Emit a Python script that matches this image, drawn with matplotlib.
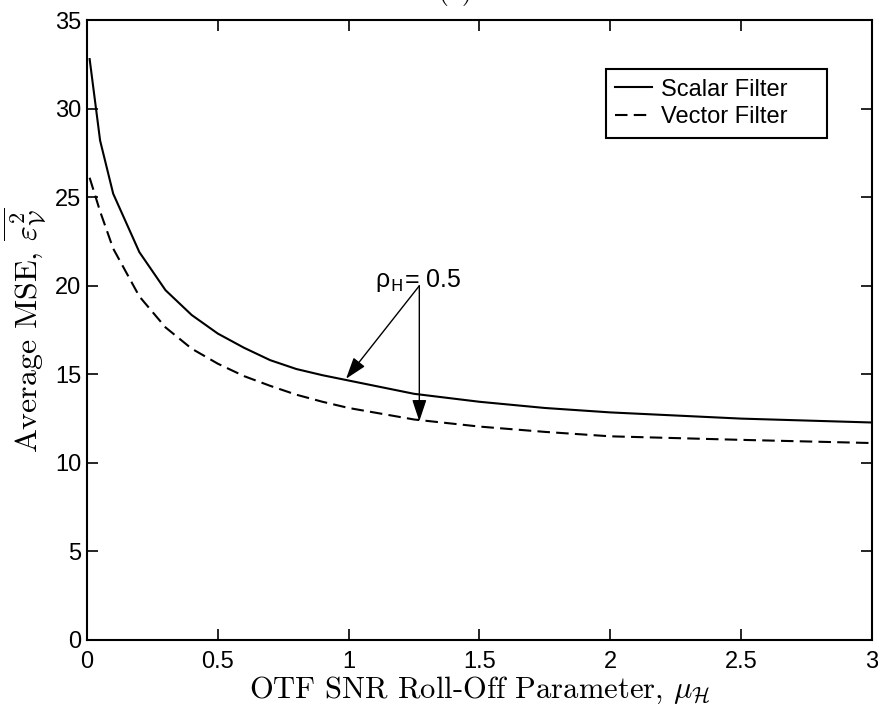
import matplotlib
matplotlib.use("Agg")
import matplotlib.pyplot as plt

plt.rcParams['mathtext.fontset'] = 'cm'
plt.rcParams['axes.unicode_minus'] = False

# OTF SNR roll-off parameter
mu = [0.01, 0.05, 0.1, 0.2, 0.3, 0.4, 0.5, 0.6, 0.7, 0.8, 0.9, 1.0,
      1.25, 1.5, 1.75, 2.0, 2.5, 3.0]
scalar_mse = [32.8, 28.2, 25.2, 21.9, 19.75, 18.35, 17.3, 16.5, 15.8, 15.3,
              14.95, 14.65, 13.9, 13.45, 13.1, 12.85, 12.5, 12.28]
vector_mse = [26.1, 24.2, 22.1, 19.4, 17.65, 16.45, 15.6, 14.9, 14.35, 13.85,
              13.45, 13.1, 12.45, 12.05, 11.75, 11.5, 11.3, 11.12]
labels = ["Scalar Filter", "Vector Filter"]

sans = ['Liberation Sans', 'DejaVu Sans']
serif = ['cmr10', 'DejaVu Serif']

fig = plt.figure(figsize=(8.79, 7.06), dpi=100)
ax = fig.add_axes([0.099, 0.0935, 0.893, 0.878])

ax.plot(mu, scalar_mse, color='k', lw=1.5, label=labels[0])
ax.plot(mu, vector_mse, color='k', lw=1.5, linestyle=(0, (6, 3)),
        label=labels[1])

ax.set_xlim(0, 3)
ax.set_ylim(0, 35)
ax.set_xticks([0, 0.5, 1, 1.5, 2, 2.5, 3])
ax.set_xticklabels(['0', '0.5', '1', '1.5', '2', '2.5', '3'])
ax.set_yticks(range(0, 36, 5))
ax.tick_params(direction='in', length=8, width=1.2, top=True, right=True,
               labelsize=17)
ax.tick_params(axis='x', pad=8)
ax.tick_params(axis='y', pad=4)
for lab in ax.get_xticklabels() + ax.get_yticklabels():
    lab.set_family(sans)
for sp in ax.spines.values():
    sp.set_linewidth(1.5)

ax.set_xlabel(r'OTF SNR Roll-Off Parameter, $\mu_{\mathcal{H}}$',
              fontsize=22, family=serif, labelpad=1)
ax.set_ylabel(r'Average MSE, $\overline{\varepsilon^2_{\mathcal{V}}}$',
              fontsize=23, family=serif, labelpad=6)

leg = ax.legend(loc='upper left', bbox_to_anchor=(0.661, 0.811, 0.282, 0.110),
                mode='expand', prop={'family': sans, 'size': 17},
                fancybox=False, edgecolor='k', framealpha=1,
                handlelength=1.55, borderpad=0.4, labelspacing=0.25,
                handletextpad=0.4, borderaxespad=0)
leg.get_frame().set_linewidth(1.5)

# annotation for rho_H
ax.text(1.10, 19.95, r'ρ$_{\mathsf{H}}$= 0.5', fontsize=18, family=sans,
        va='baseline', ha='left')
ax.annotate('', xy=(0.99, 14.75), xytext=(1.27, 20.0),
            arrowprops=dict(arrowstyle='-|>,head_length=0.6,head_width=0.2',
                            color='k', lw=1.0, mutation_scale=22,
                            shrinkA=0, shrinkB=0))
ax.annotate('', xy=(1.27, 12.35), xytext=(1.27, 20.0),
            arrowprops=dict(arrowstyle='-|>,head_length=0.6,head_width=0.2',
                            color='k', lw=1.0, mutation_scale=22,
                            shrinkA=0, shrinkB=0))

fig.text(0.518, 0.992, '(a)', fontsize=20, family=serif,
         ha='center', va='bottom')

fig.savefig('out.png', dpi=100)
plt.close(fig)
